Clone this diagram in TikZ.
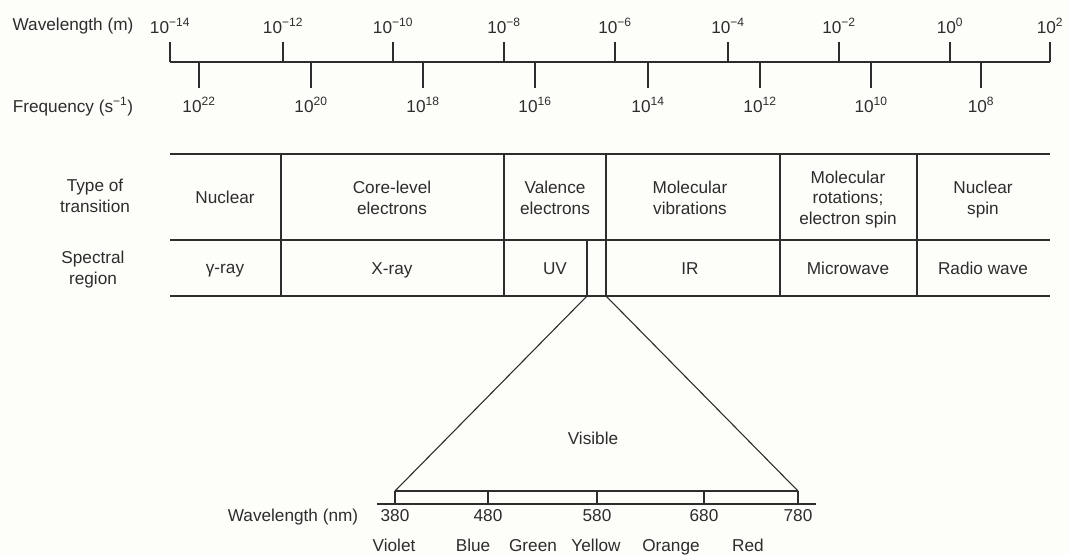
\documentclass[tikz,border=0pt]{standalone}
\usepackage{fontspec}
\setmainfont{Liberation Sans}
\usetikzlibrary{positioning}
\definecolor{paper}{RGB}{253,253,249}
\definecolor{ink}{RGB}{45,45,45}
\newcommand{\tenpow}[1]{10\textsuperscript{#1}}

\begin{document}
\begin{tikzpicture}[x=1pt,y=-1pt,
    lbl/.style={font=\fontsize{17.2}{20.8}\selectfont, text=ink, align=center,
      inner sep=0pt, text depth=4.5pt},
    rule/.style={line width=1.1pt, draw=ink}]
  \useasboundingbox[fill=paper] (0,0) rectangle (1070,554);

  % scale of wavelength and frequency
  \node[lbl] (wltitle) at (73,27) {Wavelength (m)};
  \node[lbl] (frtitle) at (73,107) {Frequency (s\textsuperscript{−1})};
  \coordinate (axl) at (170,62);
  \coordinate (axr) at (1050,62);
  \draw[rule] (axl) -- (axr);
  \foreach \x/\e [count=\i] in {170/−14,283/−12,393/−10,504/−8,615/−6,728/−4,839/−2,950/0,1050/2} {
    \draw[rule] (\x,42) -- (\x,62);
    \node[lbl] (wl\i) at (\x,28) {\tenpow{\e}};
  }
  \foreach \x/\e [count=\i] in {199/22,311/20,423/18,535/16,648/14,760/12,871/10,981/8} {
    \draw[rule] (\x,62) -- (\x,88);
    \node[lbl] (fr\i) at (\x,107) {\tenpow{\e}};
  }

  % table of transitions and regions
  \foreach \y in {154,240,296} {
    \draw[rule] (170,\y) -- (1050,\y);
  }
  \foreach \x in {281,504,606,780,917} {
    \draw[rule] (\x,154) -- (\x,296);
  }
  \coordinate (uvtop) at (587,240);
  \coordinate (uvbot) at (587,296);
  \coordinate (irbot) at (606,296);
  \draw[rule] (uvtop) -- (uvbot);

  \node[lbl] (typehead) at (95,198) {Type of\\transition};
  \node[lbl] (regionhead) at (93,270) {Spectral\\region};

  \node[lbl] (nuclear) at (225,200) {Nuclear};
  \node[lbl] (core) at (392,200) {Core-level\\electrons};
  \node[lbl] (valence) at (555,200) {Valence\\electrons};
  \node[lbl] (vib) at (690,200) {Molecular\\vibrations};
  \node[lbl] (rot) at (848,200) {Molecular\\rotations;\\electron spin};
  \node[lbl] (nspin) at (983,200) {Nuclear\\spin};

  \node[lbl] (gamma) at (225,271) {γ-ray};
  \node[lbl] (xray) at (392,271) {X-ray};
  \node[lbl] (uv) at (555,271) {UV};
  \node[lbl] (ir) at (690,271) {IR};
  \node[lbl] (micro) at (848,271) {Microwave};
  \node[lbl] (radio) at (983,271) {Radio wave};

  % visible part
  \coordinate (vl) at (395,491);
  \coordinate (vr) at (798,491);
  \draw[rule] (uvbot) -- (vl);
  \draw[rule] (irbot) -- (vr);
  \draw[rule] (vl) -- (vr);
  \draw[rule] (377,504) -- (816,504);
  \node[lbl] (visible) at (593,441) {Visible};
  \node[lbl] (nmtitle) at (293,518) {Wavelength (nm)};
  \foreach \x/\n in {395/380,488/480,597/580,704/680,798/780} {
    \draw[rule] (\x,491) -- (\x,504);
    \node[lbl] (nm\n) at (\x,518) {\n};
  }
  \foreach \x/\c in {394/Violet,473/Blue,533/Green,596/Yellow,671/Orange,748/Red} {
    \node[lbl] (col\c) at (\x,548) {\c};
  }
\end{tikzpicture}
\end{document}
